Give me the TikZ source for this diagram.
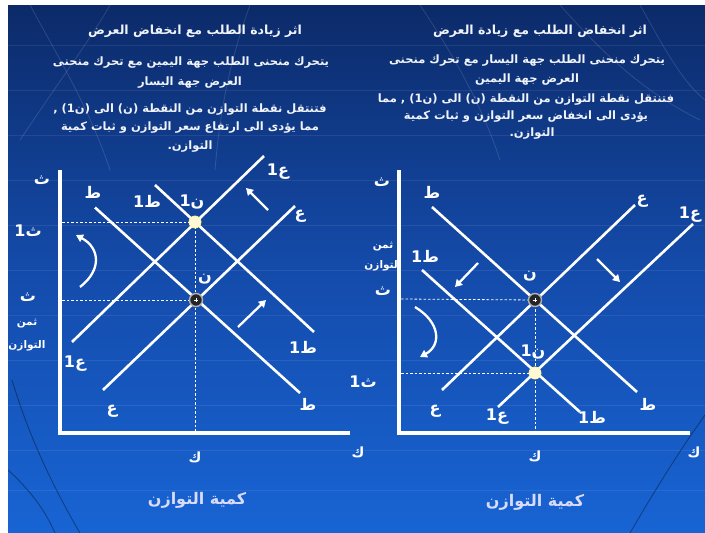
\documentclass[tikz,border=0pt]{standalone}
\usepackage{fontspec}
\newfontfamily\arabicfont[Script=Arabic]{DejaVu Sans}
\TeXXeTstate=1
\usetikzlibrary{arrows.meta}
\definecolor{bgtop}{RGB}{12,42,105}
\definecolor{bgmid}{RGB}{20,75,170}
\definecolor{bgbot}{RGB}{24,100,212}
\definecolor{txtw}{RGB}{240,244,250}
\definecolor{ptcream}{RGB}{255,248,215}
\newcommand{\AR}[1]{{\arabicfont\bfseries\beginR #1\endR}}
\newcommand{\LB}[1]{{\arabicfont\bfseries #1}}
\tikzset{
  curve/.style={draw=white, line width=2.6pt},
  axisline/.style={draw=white, line width=4.2pt},
  guide/.style={draw=white, line width=0.8pt, dash pattern=on 2.5pt off 2pt},
  mover/.style={draw=white, line width=2.3pt, -{Triangle[length=7pt,width=8pt]}},
  lbl/.style={text=white, font=\fontsize{16}{16}\selectfont, inner sep=0pt},
  klbl/.style={text=white, font=\fontsize{14}{14}\selectfont, inner sep=0pt},
  small/.style={text=white, font=\fontsize{10.5}{10.5}\selectfont, inner sep=0pt},
  body/.style={text=txtw, font=\fontsize{11.5}{11.5}\selectfont, inner sep=0pt},
  title/.style={text=txtw, font=\fontsize{12.5}{12.5}\selectfont, inner sep=0pt},
  foot/.style={text=txtw!90!blue, font=\fontsize{16}{16}\selectfont, inner sep=0pt},
  ptdark/.style={circle, fill=black!85, draw=black!30, line width=1.4pt, minimum size=13pt, inner sep=0pt},
  ptlight/.style={circle, fill=ptcream, draw=ptcream!70!yellow, line width=0.8pt, minimum size=12pt, inner sep=0pt},
  globe/.style={draw=white, opacity=0.13, line width=0.8pt},
  globedark/.style={draw=black, opacity=0.35, line width=0.9pt}
}
\begin{document}
\begin{tikzpicture}[x=1pt,y=-1pt]
\useasboundingbox (0,0) rectangle (705,533);
\fill[white] (0,0) rectangle (705,533);
\shade[top color=bgtop, bottom color=bgbot, middle color=bgmid] (8,5) rectangle (705,533);
% faint globe grid
\begin{scope}
\clip (8,5) rectangle (705,533);
\foreach \yy in {45,90,135,180,225,270,315,360,405,450,490} {\draw[globe, opacity=0.08] (8,\yy) -- (705,\yy);}
\draw[globe] (30,5) .. controls (60,60) and (90,110) .. (110,170);
\draw[globe] (110,5) .. controls (90,40) and (60,80) .. (20,140);
\draw[globe] (250,5) .. controls (230,60) and (220,110) .. (215,170);
\draw[globe] (420,5) .. controls (450,50) and (480,100) .. (500,160);
\draw[globe] (560,5) .. controls (600,50) and (640,90) .. (700,120);
\draw[globe] (640,5) .. controls (660,40) and (680,80) .. (705,100);
\draw[globedark] (12,380) .. controls (30,440) and (55,490) .. (80,533);
\draw[globedark] (8,470) .. controls (30,490) and (45,510) .. (55,533);
\draw[globedark] (705,415) .. controls (680,450) and (655,490) .. (630,533);
\end{scope}

% ================= LEFT PANEL =================
\node[title] (lt) at (195,31) {\AR{اثر زيادة الطلب مع انخفاض العرض}};
\node[body] (l1) at (191,63) {\AR{يتحرك منحنى الطلب جهة اليمين مع تحرك منحنى}};
\node[body] (l2) at (190,83) {\AR{العرض جهة اليسار}};
\node[body] (l3) at (190,110) {\AR{فتنتقل نقطة التوازن من النقطة (ن) الى (ن1) ,}};
\node[body] (l4) at (190,128) {\AR{مما يؤدى الى ارتفاع سعر التوازن و ثبات كمية}};
\node[body] (l5) at (190,147) {\AR{التوازن.}};

\coordinate (LO) at (60,433);
\coordinate (LY) at (60,170);
\coordinate (LX) at (350,433);
\draw[axisline] (LY) -- (LO) -- (LX);

\coordinate (LDa) at (95,207.5);  \coordinate (LDb) at (300,393);
\coordinate (LD1a) at (155,185);  \coordinate (LD1b) at (314,332);
\coordinate (LSa) at (103,390);   \coordinate (LSb) at (295,206);
\coordinate (LS1a) at (72,342);   \coordinate (LS1b) at (264,156);
\coordinate (LN) at (196,300);
\coordinate (LN1) at (195,222);

\draw[guide] (62,222) -- (LN1);
\draw[guide] (62,300) -- (LN);
\draw[guide] (LN1) -- (195,431);

\draw[curve] (LDa) -- (LDb);
\draw[curve] (LD1a) -- (LD1b);
\draw[curve] (LSa) -- (LSb);
\draw[curve] (LS1a) -- (LS1b);

\node[ptdark] (lpn) at (LN) {};
\draw[white, line width=0.8pt] (lpn.center) ++(-2,0) -- ++(4,0) ++(-2,-2) -- ++(0,4);
\node[ptlight] (lpn1) at (LN1) {};

\coordinate (la1s) at (268,210); \coordinate (la1e) at (246,188);
\coordinate (la2s) at (238,327); \coordinate (la2e) at (266,300);
\draw[mover] (la1s) -- (la1e);
\draw[mover] (la2s) -- (la2e);
\coordinate (lcs) at (80,287); \coordinate (lce) at (76,235);
\draw[mover] (lcs) .. controls (102,270) and (100,248) .. (lce);

\node[lbl] (lth) at (42,180) {\LB{ث}};
\node[lbl] (lth1) at (28,231) {\LB{ث1}};
\node[lbl] (lth0) at (28,297) {\LB{ث}};
\node[small] (lpr1) at (27,324) {\AR{ثمن}};
\node[small] (lpr2) at (27,346) {\AR{التوازن}};
\node[lbl] (lDt) at (93,192) {\LB{ط}};
\node[lbl] (lD1t) at (147,201) {\LB{ط1}};
\node[lbl] (lN1t) at (192,202) {\LB{ن1}};
\node[lbl] (lS1t) at (278,172) {\LB{ع1}};
\node[lbl] (lSt) at (300,216) {\LB{ع}};
\node[lbl] (lNt) at (205,279) {\LB{ن}};
\node[lbl] (lD1b) at (303,347) {\LB{ط1}};
\node[lbl] (lS1b) at (75,364) {\LB{ع1}};
\node[lbl] (lSb) at (112,411) {\LB{ع}};
\node[lbl] (lDb) at (308,404) {\LB{ط}};
\node[klbl] (lK) at (195,457) {\LB{ك}};
\node[klbl] (lKx) at (358,452) {\LB{ك}};
\node[foot] (lfoot) at (197,500) {\AR{كمية التوازن}};

% ================= RIGHT PANEL =================
\node[title] (rt) at (540,31) {\AR{اثر انخفاض الطلب مع زيادة العرض}};
\node[body] (r1) at (527,61) {\AR{يتحرك منحنى الطلب جهة اليسار مع تحرك منحنى}};
\node[body] (r2) at (527,80) {\AR{العرض جهة اليمين}};
\node[body] (r3) at (526,100) {\AR{فتنتقل نقطة التوازن من النقطة (ن) الى (ن1) , مما}};
\node[body] (r4) at (526,117) {\AR{يؤدى الى انخفاض سعر التوازن و ثبات كمية}};
\node[body] (r5) at (532,134) {\AR{التوازن.}};

\coordinate (RO) at (399,433);
\coordinate (RY) at (399,170);
\coordinate (RX) at (690,433);
\draw[axisline] (RY) -- (RO) -- (RX);

\coordinate (RDa) at (432,207);   \coordinate (RDb) at (637,392);
\coordinate (RD1a) at (422,270);  \coordinate (RD1b) at (580,412);
\coordinate (RSa) at (442,390);   \coordinate (RSb) at (635,205);
\coordinate (RS1a) at (498,407);  \coordinate (RS1b) at (693,224);
\coordinate (RN) at (535,300);
\coordinate (RN1) at (535,373);

\draw[guide] (401,299) -- (RN);
\draw[guide] (401,373) -- (RN1);
\draw[guide] (RN) -- (535,431);

\draw[curve] (RDa) -- (RDb);
\draw[curve] (RD1a) -- (RD1b);
\draw[curve] (RSa) -- (RSb);
\draw[curve] (RS1a) -- (RS1b);

\node[ptdark] (rpn) at (RN) {};
\draw[white, line width=0.8pt] (rpn.center) ++(-2,0) -- ++(4,0) ++(-2,-2) -- ++(0,4);
\node[ptlight] (rpn1) at (RN1) {};

\coordinate (ra1s) at (478,263); \coordinate (ra1e) at (455,287);
\coordinate (ra2s) at (597,259); \coordinate (ra2e) at (620,282);
\draw[mover] (ra1s) -- (ra1e);
\draw[mover] (ra2s) -- (ra2e);
\coordinate (rcs) at (415,307); \coordinate (rce) at (420,357);
\draw[mover] (rcs) .. controls (440,322) and (442,345) .. (rce);

\node[lbl] (rth) at (382,182) {\LB{ث}};
\node[small] (rpr1) at (383,247) {\AR{ثمن}};
\node[small] (rpr2) at (383,266) {\AR{التوازن}};
\node[lbl] (rth0) at (383,291) {\LB{ث}};
\node[lbl] (rth1) at (363,382) {\LB{ث1}};
\node[lbl] (rDt) at (432,192) {\LB{ط}};
\node[lbl] (rSt) at (642,201) {\LB{ع}};
\node[lbl] (rS1t) at (690,215) {\LB{ع1}};
\node[lbl] (rD1t) at (425,256) {\LB{ط1}};
\node[lbl] (rNt) at (530,276) {\LB{ن}};
\node[lbl] (rN1t) at (533,352) {\LB{ن1}};
\node[lbl] (rSb) at (435,411) {\LB{ع}};
\node[lbl] (rS1b) at (497,417) {\LB{ع1}};
\node[lbl] (rD1b) at (592,417) {\LB{ط1}};
\node[lbl] (rDb) at (648,404) {\LB{ط}};
\node[klbl] (rK) at (535,456) {\LB{ك}};
\node[klbl] (rKx) at (694,452) {\LB{ك}};
\node[foot] (rfoot) at (535,502) {\AR{كمية التوازن}};
\end{tikzpicture}
\end{document}
